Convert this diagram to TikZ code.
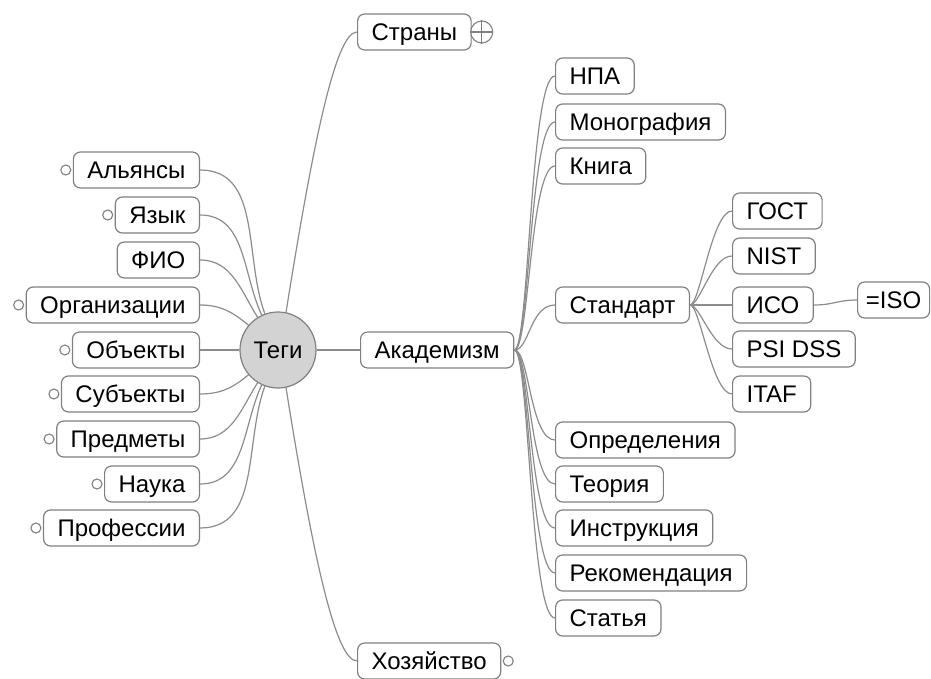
\documentclass[tikz,border=0pt]{standalone}
\usepackage{fontspec}
\setmainfont{Liberation Sans}
\definecolor{framegray}{RGB}{128,128,128}
\definecolor{linkgray}{RGB}{140,140,140}
\definecolor{hubgray}{RGB}{211,211,211}
\tikzset{
  tag/.style={draw=framegray, line width=1.2pt, rounded corners=7pt, fill=white,
    minimum height=36pt, inner xsep=14pt, inner ysep=0pt,
    text height=17pt, text depth=0pt, font=\fontsize{24}{28}\selectfont},
  hub/.style={circle, draw=framegray, line width=1.2pt, fill=hubgray,
    minimum size=76pt, inner sep=0pt, font=\fontsize{24}{28}\selectfont},
  knob/.style={circle, draw=framegray, line width=1.1pt, fill=white,
    minimum size=10pt, inner sep=0pt},
  link/.style={draw=linkgray, line width=1.2pt},
}
\begin{document}
\begin{tikzpicture}[x=1pt,y=1pt]
        \useasboundingbox (0,0) rectangle (931,-679);

        % Central topic
        \node[hub] (tegi) at (278,-350) {Теги};

        % Left branches
        \foreach \name/\y/\txt/\ang/\knobbed in {alyansy/170/Альянсы/110/1,
            yazyk/215/Язык/115/1, fio/260/ФИО/122/0, org/305/Организации/140/1,
            obj/350/Объекты/180/1, subj/394/Субъекты/220/1, predm/439/Предметы/238/1,
            nauka/484/Наука/245/1, prof/528/Профессии/250/1}
        {
            \node[tag, anchor=east] (\name) at (200,-\y) {\txt};
            \draw[link] (\name.east) to[out=0,in=\ang] (tegi);
            \ifnum\knobbed=1 \node[knob] (\name-k) at ([xshift=-7pt]\name.west) {};\fi
        }

        % Right branches
        \node[tag, anchor=west] (strany) at (357,-32) {Страны};
        \node[knob, minimum size=22pt] (strany-k) at ([xshift=10pt]strany.east) {};
        \draw[framegray, line width=1.1pt] (strany-k.north) -- (strany-k.south)
            (strany-k.west) -- (strany-k.east);
        \node[tag, anchor=west] (akad) at (360,-350) {Академизм};
        \node[tag, anchor=west] (hoz) at (357,-661) {Хозяйство};
        \node[knob] (hoz-k) at ([xshift=7pt]hoz.east) {};

        \draw[link] (tegi.78) .. controls (312,-150) and (335,-32) .. (strany.west);
        \draw[link] (tegi.east) -- (akad.west);
        \draw[link] (tegi.-78) .. controls (312,-550) and (335,-661) .. (hoz.west);

        % Academic sources
        \foreach \name/\y/\txt in {npa/76/НПА, mono/122/Монография, kniga/166/Книга,
            standart/305/Стандарт, opred/440/Определения, teoria/484/Теория,
            instr/528/Инструкция, rekom/573/Рекомендация, statya/618/Статья}
        {
            \node[tag, anchor=west] (\name) at (555,-\y) {\txt};
            \draw[link] (akad.east) .. controls +(15,0) and +(-25,0) .. (\name.west);
        }

        % Standards
        \foreach \name/\y/\txt in {gost/211/ГОСТ, nist/256/NIST, iso/305/ИСО,
            psi/349/PSI DSS, itaf/394/ITAF}
        {
            \node[tag, anchor=west] (\name) at (732,-\y) {\txt};
            \draw[link] (standart.east) .. controls +(10,0) and +(-20,0) .. (\name.west);
        }

        \node[tag, anchor=west, minimum width=72pt, inner xsep=6pt] (isoeq) at (857,-300) {=ISO};
        \draw[link] (iso.east) .. controls +(20,0) and +(-20,0) .. (isoeq.west);
\end{tikzpicture}
\end{document}
